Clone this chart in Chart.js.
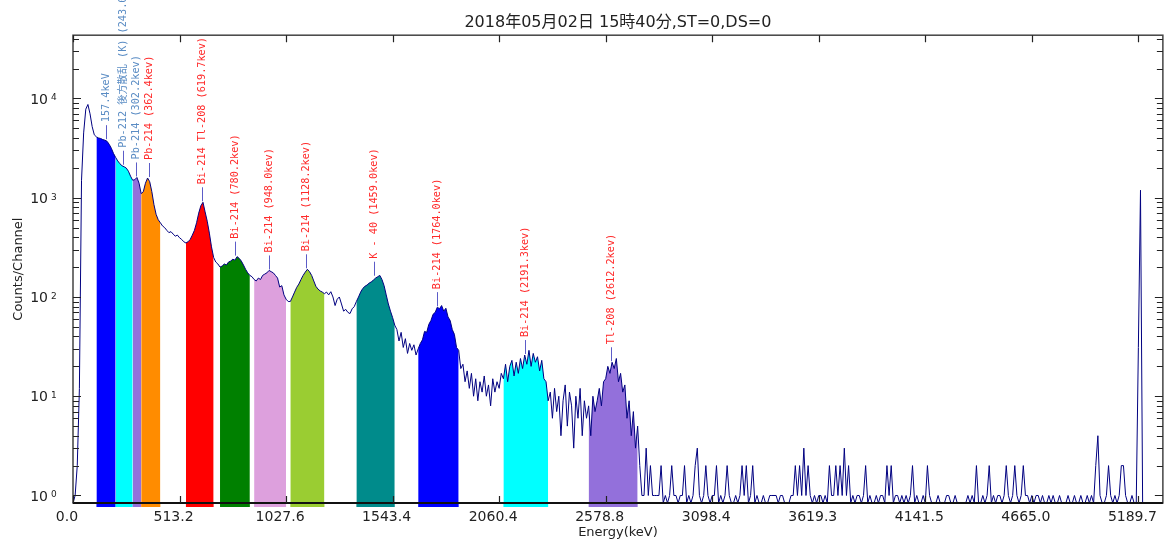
<!DOCTYPE html>
<html>
<head>
<meta charset="utf-8">
<script src="https://cdn.jsdelivr.net/npm/chart.js@4.4.0/dist/chart.umd.min.js"></script>
<style>
	html, body { margin: 0; padding: 0; background: #fff; }
	#wrap { width: 1169px; height: 542px; }
</style>
</head>
<body>
<div id="wrap"><canvas id="spectrum" width="1169" height="542"></canvas></div>
<script>
// counts per bin of 2 channels
var binWidth = 2;

var countsLow = [
	0, 1, 2, 12, 1500, 4500, 7800, 8700, 7000, 5200,
	4300, 4100, 4000, 3950, 3850, 3800, 3700, 3450, 3150, 2800,
	2550, 2350, 2200, 2100, 2050, 1990, 1850, 1650, 1500, 1520,
	1600, 1400, 1100, 1150, 1400, 1580, 1450, 1150, 850, 680,
	600, 560, 520, 500, 470, 445, 455, 430, 410, 420,
	395, 380, 360, 350, 360, 380, 420, 470, 560, 700,
	830, 900, 720, 580, 440, 320, 250, 225, 215, 200,
	205, 215, 210, 225, 230, 240, 235, 255, 245, 230,
	210, 190, 175, 165, 160, 150, 145, 155, 150, 165,
	170, 175, 185, 180, 175, 165, 155, 126, 130, 105
];

var countsMid = [
	95, 90, 90, 100, 112, 125, 135, 150, 165, 178,
	190, 180, 165, 145, 128, 120, 115, 112, 108, 112,
	105, 113, 100, 82, 95, 100, 85, 72, 75, 70,
	68, 76, 80, 90, 100, 112, 122, 128, 132, 138,
	142, 148, 155, 160, 165, 150, 130, 105, 85, 72,
	62, 52, 47, 36, 44, 31, 38, 27, 34, 29,
	33, 26, 30, 34, 37, 45, 44, 53, 58, 67,
	70, 79, 76, 82, 72, 77, 63, 58, 47, 42,
	31, 29, 19, 21, 14, 18, 12, 17, 10, 15,
	9, 14, 11, 16, 10, 13, 8, 15, 11, 14,
	12, 17, 15, 21, 14, 20, 23, 16, 22, 17,
	24, 19, 26, 21, 29, 20, 27, 22, 25, 18,
	23, 15, 14, 9, 11, 6, 12, 7, 10, 4,
	9, 13, 5, 11, 8, 3, 10, 6, 12, 4,
	9, 6, 8, 4, 10, 7, 9, 12, 8, 14,
	15, 20, 17, 22, 19, 24, 14, 17, 11, 13,
	6, 9, 4, 7, 3, 5
];

var countsTail = [
	2, 1, 1, 3, 1, 2, 1, 1, 1, 1,
	2, 0, 1, 0, 1, 2, 1, 1, 0, 1,
	1, 2, 0, 1, 0, 1, 2, 3, 1, 0,
	1, 2, 1, 0, 1, 1, 2, 0, 1, 0,
	1, 2, 1, 0, 0, 1, 0, 1, 2, 1,
	2, 0, 1, 2, 0, 1, 0, 0, 1, 0,
	0, 1, 1, 1, 1, 0, 1, 1, 0, 0,
	0, 1, 1, 2, 1, 2, 1, 3, 1, 2,
	1, 0, 1, 0, 1, 1, 0, 1, 0, 2,
	1, 1, 2, 1, 2, 1, 3, 1, 2, 0,
	1, 0, 1, 1, 0, 1, 2, 0, 1, 0,
	0, 1, 0, 1, 1, 0, 2, 1, 2, 0,
	1, 1, 0, 1, 0, 1, 0, 1, 2, 0,
	1, 0, 0, 1, 0, 2, 1, 0, 0, 0,
	1, 0, 0, 0, 1, 1, 0, 0, 1, 0,
	0, 0, 0, 0, 1, 0, 1, 0, 2, 0,
	0, 1, 0, 1, 2, 0, 1, 0, 1, 1,
	0, 1, 2, 1, 0, 1, 2, 1, 0, 1,
	2, 1, 1, 0, 1, 0, 1, 1, 0, 1,
	0, 0, 1, 0, 1, 0, 0, 1, 0, 0,
	0, 1, 0, 0, 1, 0, 0, 1, 0, 0,
	1, 0, 1, 0, 2, 4, 1, 0, 0, 1,
	2, 1, 0, 1, 0, 1, 2, 2, 1, 0,
	0, 1, 0, 0, 31, 1190, 0, 0, 0, 0,
	0, 0, 0, 0, 0, 0
];

var tickChannels = [0, 100, 200, 300, 400, 500, 600, 700, 800, 900, 1000];
var tickLabels = ["0.0", "513.2", "1027.6", "1543.4", "2060.4", "2578.8", "3098.4", "3619.3", "4141.5", "4665.0", "5189.7"];

// regions of interest, in channels
var roiStart = [22, 40, 56, 64, 106, 138, 170, 204, 266, 324, 404, 484];
var roiEnd = [40, 56, 64, 82, 132, 166, 200, 236, 302, 362, 446, 530];
var roiColors = ["#0000ff", "#00ffff", "#9370db", "#ff8c00", "#ff0000", "#008000", "#dda0dd", "#9acd32", "#008b8b", "#0000ff", "#00ffff", "#9370db"];

var peakChannels = [31, 47, 59, 71, 121, 152, 184, 219, 283, 342, 424, 505];
var peakLabels = [
	"157.4keV",
	"Pb-212 後方散乱 (K) (243.0kev)",
	"Pb-214 (302.2kev)",
	"Pb-214 (362.4kev)",
	"Bi-214 Tl-208 (619.7kev)",
	"Bi-214 (780.2kev)",
	"Bi-214 (948.0kev)",
	"Bi-214 (1128.2kev)",
	"K - 40 (1459.0kev)",
	"Bi-214 (1764.0kev)",
	"Bi-214 (2191.3kev)",
	"Tl-208 (2612.2kev)"
];
var peakColors = ["#5a8cc4", "#5a8cc4", "#5a8cc4", "#ff2a2a", "#ff2a2a", "#ff2a2a", "#ff2a2a", "#ff2a2a", "#ff2a2a", "#ff2a2a", "#ff2a2a", "#ff2a2a"];

// bottom of the log axis; empty channels sit on it
var yFloor = 0.84;
var yTop = 43400;

var counts = countsLow.concat(countsMid, countsTail);
var points = counts.map(function(c, i) {
	return { x: i * binWidth, y: c > 0 ? c : yFloor };
});

var datasets = [{
	data: points,
	borderColor: "#000080",
	borderWidth: 1,
	pointRadius: 0,
	tension: 0,
	fill: false,
	clip: 6,
	order: 0
}];

for (var r = 0; r < roiStart.length; r++) {
	datasets.push({
		data: points.filter(function(p) {
			return p.x >= roiStart[r] && p.x <= roiEnd[r];
		}),
		borderWidth: 0,
		backgroundColor: roiColors[r],
		pointRadius: 0,
		tension: 0,
		fill: "start",
		order: 1
	});
}

function countAt(ch) {
	var idx = Math.round(ch / binWidth);
	var v = counts[idx];
	if (idx > 0 && counts[idx - 1] > v) v = counts[idx - 1];
	if (idx < counts.length - 1 && counts[idx + 1] > v) v = counts[idx + 1];
	return v;
}

var framePlugin = {
	id: "frame",
	afterDatasetsDraw: function(chart) {
		var ctx = chart.ctx;
		var a = chart.chartArea;
		var xs = chart.scales.x;
		var ys = chart.scales.y;
		ctx.save();

		// roi blocks run a little below the axis
		for (var r = 0; r < roiStart.length; r++) {
			var x0 = xs.getPixelForValue(roiStart[r]);
			var x1 = xs.getPixelForValue(roiEnd[r]);
			ctx.fillStyle = roiColors[r];
			ctx.fillRect(x0, a.bottom, x1 - x0, 4);
		}

		ctx.strokeStyle = "#444";
		ctx.lineWidth = 1.5;
		ctx.strokeRect(a.left, a.top, a.right - a.left, a.bottom - a.top);
		ctx.strokeStyle = "#111";
		ctx.lineWidth = 2;
		ctx.beginPath();
		ctx.moveTo(a.left, a.bottom);
		ctx.lineTo(a.right, a.bottom);
		ctx.stroke();

		ctx.lineWidth = 1.2;
		ctx.strokeStyle = "#222";
		ctx.beginPath();
		tickChannels.forEach(function(ch) {
			var x = Math.round(xs.getPixelForValue(ch)) + 0.5;
			ctx.moveTo(x, a.bottom);
			ctx.lineTo(x, a.bottom - 7);
			ctx.moveTo(x, a.top);
			ctx.lineTo(x, a.top + 7);
		});
		for (var e = 0; e <= 4; e++) {
			for (var m = 1; m <= 9; m++) {
				var v = m * Math.pow(10, e);
				if (v > ys.max) break;
				var y = Math.round(ys.getPixelForValue(v)) + 0.5;
				var len = m === 1 ? 8 : 6;
				ctx.moveTo(a.left, y);
				ctx.lineTo(a.left + len, y);
				ctx.moveTo(a.right, y);
				ctx.lineTo(a.right - len, y);
			}
		}
		ctx.stroke();

		ctx.fillStyle = "#222";
		for (var d = 0; d <= 4; d++) {
			var yy = ys.getPixelForValue(Math.pow(10, d));
			ctx.font = "14px 'DejaVu Sans'";
			ctx.textAlign = "right";
			ctx.textBaseline = "middle";
			ctx.fillText("10", 48, yy + 1.5);
			ctx.font = "9px 'DejaVu Sans'";
			ctx.textAlign = "left";
			ctx.textBaseline = "top";
			ctx.fillText(String(d), 51, yy - 5);
		}

		ctx.font = "10.2px 'DejaVu Sans Mono', 'Noto Sans CJK JP'";
		for (var k = 0; k < peakChannels.length; k++) {
			var px = Math.round(xs.getPixelForValue(peakChannels[k])) + 0.5;
			var py = ys.getPixelForValue(countAt(peakChannels[k]));
			ctx.strokeStyle = "#5c5cc8";
			ctx.lineWidth = 1;
			ctx.beginPath();
			ctx.moveTo(px, py - 1);
			ctx.lineTo(px, py - 15);
			ctx.stroke();
			ctx.save();
			ctx.translate(px, py - 18);
			ctx.rotate(-Math.PI / 2);
			ctx.fillStyle = peakColors[k];
			ctx.textAlign = "left";
			ctx.textBaseline = "middle";
			ctx.fillText(peakLabels[k], 0, 0);
			ctx.restore();
		}
		ctx.restore();
	}
};

Chart.defaults.font.family = "'DejaVu Sans', 'Noto Sans CJK JP', sans-serif";
Chart.defaults.color = "#222";

var ctx = document.getElementById("spectrum").getContext("2d");
var myChart = new Chart(ctx, {
	type: "line",
	data: { datasets: datasets },
	options: {
		responsive: false,
		animation: false,
		devicePixelRatio: 1,
		layout: { padding: { left: 0, right: 2, top: 0, bottom: 0 } },
		plugins: {
			legend: { display: false },
			tooltip: { enabled: false },
			title: {
				display: true,
				fullSize: false,
				text: "2018年05月02日 15時40分,ST=0,DS=0",
				color: "#222",
				font: { size: 16, weight: "normal" },
				padding: { top: 13, bottom: 3 }
			}
		},
		scales: {
			x: {
				type: "linear",
				min: 0,
				max: 1023,
				grid: { display: false, drawTicks: false },
				border: { display: false },
				afterBuildTicks: function(scale) {
					scale.ticks = tickChannels.map(function(v) { return { value: v }; });
				},
				afterFit: function(scale) { scale.height = 39; },
				ticks: {
					autoSkip: false,
					maxRotation: 0,
					padding: 6,
					labelOffset: -6,
					font: { size: 14 },
					callback: function(value, index) { return tickLabels[index]; }
				},
				title: {
					display: true,
					text: "Energy(keV)",
					font: { size: 13 },
					padding: { top: 0, bottom: 2 }
				}
			},
			y: {
				type: "logarithmic",
				min: yFloor,
				max: yTop,
				grid: { display: false, drawTicks: false },
				border: { display: false },
				ticks: { display: false },
				afterFit: function(scale) { scale.width = 73; },
				title: {
					display: true,
					text: "Counts/Channel",
					font: { size: 13 },
					padding: { top: 11, bottom: 0 }
				}
			}
		}
	},
	plugins: [framePlugin]
});
</script>
</body>
</html>
